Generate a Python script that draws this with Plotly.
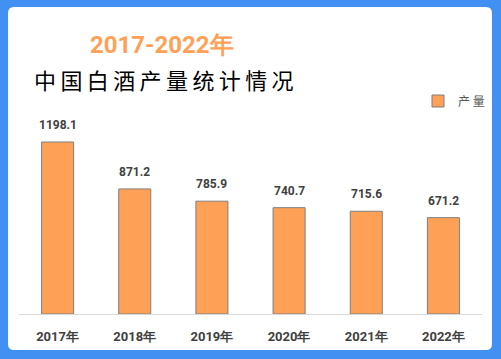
import plotly.graph_objects as go

years = ["2017年", "2018年", "2019年", "2020年", "2021年", "2022年"]
output = [1198.1, 871.2, 785.9, 740.7, 715.6, 671.2]
series_name = "产 量"
title_top = "2017-2022年"
title_main = "中国白酒产量统计情况"

W, H = 501, 359
L, R, T, B = 19, 18, 80, 45
PW, PH = W - L - R, H - T - B

def px(x):
    return (x - L) / PW

def py(y):
    return (H - B - y) / PH

ORANGE = "#FFA057"
BLUE = "#4190F2"
NARROW = "Roboto, Liberation Sans, sans-serif"

fig = go.Figure()
fig.add_trace(go.Bar(
    x=years, y=output, name=series_name,
    marker=dict(color=ORANGE, line=dict(color="#7F7F7F", width=1)),
    showlegend=True,
))

for xv, yv in zip(years, output):
    fig.add_annotation(x=xv, y=yv, text=f"<b>{yv:.1f}</b>", showarrow=False,
                       xanchor="center", yanchor="bottom", yshift=8,
                       font=dict(family=NARROW, size=12, color="#404040"))

# white rounded panel
x0, x1, y0, y1, r = px(8), px(493), py(7), py(350), 6
rx, ry = r / PW, r / PH
path = (f"M{x0+rx},{y0} L{x1-rx},{y0} Q{x1},{y0} {x1},{y0-ry} "
        f"L{x1},{y1+ry} Q{x1},{y1} {x1-rx},{y1} L{x0+rx},{y1} Q{x0},{y1} {x0},{y1+ry} "
        f"L{x0},{y0-ry} Q{x0},{y0} {x0+rx},{y0} Z")
fig.add_shape(type="path", path=path, xref="paper", yref="paper",
              fillcolor="white", line=dict(width=0), layer="below")

fig.add_annotation(x=px(162), y=py(45), xref="paper", yref="paper", showarrow=False,
                   xanchor="center", yanchor="middle",
                   text=f"<b>{title_top}</b>",
                   font=dict(family=NARROW, size=24, color=ORANGE))
fig.add_annotation(x=px(164), y=py(79), xref="paper", yref="paper", showarrow=False,
                   xanchor="center", yanchor="middle",
                   text="\u2009".join(title_main),
                   font=dict(family="Noto Sans CJK SC, sans-serif", size=22, color="#000000"))

fig.update_layout(
    width=W, height=H,
    margin=dict(l=L, r=R, t=T, b=B),
    paper_bgcolor=BLUE, plot_bgcolor="rgba(0,0,0,0)",
    bargap=0.585,
    showlegend=True,
    legend=dict(x=px(418), y=py(101), xanchor="left", yanchor="middle",
                bgcolor="rgba(0,0,0,0)",
                font=dict(family="Noto Sans CJK SC, sans-serif", size=12, color="#595959")),
    xaxis=dict(showline=True, linecolor="#D9D9D9", linewidth=1, showgrid=False,
               ticks="outside", ticklen=10, tickcolor="rgba(0,0,0,0)",
               tickfont=dict(family=NARROW, size=13, color="#404040"),
               tickprefix="<b>", ticksuffix="</b>", fixedrange=True),
    yaxis=dict(range=[0, 1630], visible=False, fixedrange=True),
)

fig.write_html("out.html", post_script="document.body.style.margin='0';",
               config={"displayModeBar": False})
